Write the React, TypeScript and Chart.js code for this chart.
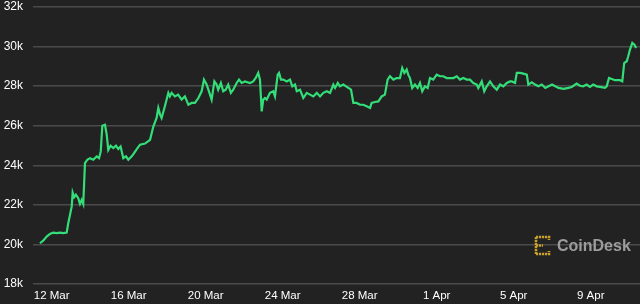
import React, { useEffect, useRef } from "react";
import { Chart, registerables } from "chart.js";

Chart.register(...registerables);

// Days since 12 Mar (0 = 12 Mar 00:00)
const dayOffsets: number[] = [
  -0.61, -0.44, -0.26, -0.09, 0.08, 0.26, 0.43, 0.6, 0.78, 0.86, 0.95, 1.04, 1.09, 1.17, 1.26, 1.38, 1.47, 1.56, 1.64,
  1.73, 1.85, 1.99, 2.16, 2.34, 2.46, 2.55, 2.63, 2.77, 2.86, 2.94, 3.06, 3.2, 3.34, 3.46, 3.58, 3.72, 3.86, 3.98,
  4.16, 4.28, 4.42, 4.59, 4.85, 5.11, 5.28, 5.45, 5.54, 5.63, 5.71, 5.88, 6.06, 6.14, 6.23, 6.4, 6.57, 6.75, 6.92,
  7.1, 7.27, 7.44, 7.62, 7.79, 7.91, 8.05, 8.17, 8.31, 8.45, 8.57, 8.65, 8.79, 8.91, 9.04, 9.17, 9.31, 9.43, 9.61,
  9.73, 9.87, 10.04, 10.3, 10.47, 10.6, 10.73, 10.82, 10.91, 10.99, 11.08, 11.17, 11.34, 11.51, 11.6, 11.74, 11.81,
  11.91, 12.03, 12.21, 12.38, 12.5, 12.64, 12.73, 12.9, 13.07, 13.25, 13.42, 13.59, 13.77, 13.94, 14.11, 14.29,
  14.46, 14.63, 14.72, 14.86, 14.97, 15.15, 15.41, 15.55, 15.67, 15.84, 16.02, 16.19, 16.36, 16.54, 16.62, 16.79,
  16.97, 17.14, 17.31, 17.45, 17.57, 17.75, 17.92, 18.09, 18.21, 18.32, 18.44, 18.52, 18.61, 18.73, 18.87, 19.01,
  19.13, 19.25, 19.39, 19.53, 19.65, 19.82, 20.0, 20.17, 20.34, 20.52, 20.69, 20.87, 21.04, 21.21, 21.38, 21.56,
  21.73, 21.9, 22.08, 22.16, 22.34, 22.47, 22.6, 22.77, 22.94, 23.12, 23.29, 23.46, 23.64, 23.81, 23.9, 24.07,
  24.16, 24.33, 24.5, 24.68, 24.76, 24.94, 25.11, 25.28, 25.46, 25.64, 25.81, 25.99, 26.16, 26.33, 26.59, 26.84,
  27.01, 27.27, 27.44, 27.61, 27.79, 27.96, 28.13, 28.31, 28.48, 28.74, 28.83, 28.95, 29.09, 29.26, 29.52, 29.64,
  29.74, 29.87, 29.95, 30.04, 30.16, 30.27, 30.36,
];

const prices: number[] = [
  20060, 20190, 20400, 20530, 20600, 20570, 20600, 20570, 20600, 21070, 21490, 21910, 22620, 22390, 22510, 22340,
  22050, 22250, 22050, 24110, 24280, 24360, 24280, 24450, 24360, 24700, 26000, 26050, 25540, 24780, 24990, 24870,
  24990, 24820, 24950, 24360, 24450, 24280, 24450, 24620, 24820, 25040, 25100, 25290, 25960, 26390, 26900, 26560,
  26390, 26980, 27660, 27480, 27660, 27480, 27570, 27320, 27480, 27060, 27150, 27150, 27400, 27740, 28330, 28080,
  27740, 27320, 28240, 28080, 27820, 28160, 27740, 27820, 28080, 27660, 27820, 28160, 28330, 28160, 28240, 28160,
  28240, 28410, 28670, 28330, 26720, 27320, 27400, 27320, 27660, 27740, 27480, 28580, 28670, 28330, 28330, 28240,
  28330, 27990, 28080, 27740, 27820, 27400, 27660, 27570, 27480, 27660, 27480, 27660, 27740, 27660, 28080, 27910,
  28160, 27990, 28080, 27910, 27820, 27150, 27150, 27060, 27060, 26980, 26900, 27150, 27200, 27230, 27480, 27570,
  28330, 28500, 28330, 28410, 28410, 28920, 28670, 28840, 28580, 28410, 27910, 28080, 27910, 28160, 27740, 27990,
  27910, 28410, 28330, 28580, 28500, 28500, 28410, 28410, 28410, 28500, 28330, 28410, 28330, 28330, 28160, 28080,
  27910, 28240, 27740, 27990, 28240, 27990, 27820, 28080, 27990, 28160, 28240, 28240, 28160, 28670, 28670, 28630,
  28580, 28080, 28190, 28080, 27990, 28080, 27910, 27990, 28080, 27990, 27910, 27860, 27910, 27960, 28130, 28020,
  27990, 28080, 27960, 28080, 27990, 27960, 27910, 27990, 28410, 28360, 28300, 28300, 28240, 29170, 29260, 29510,
  29850, 30190, 30100, 29930,
];

const tickDays: number[] = [0, 4, 8, 12, 16, 20, 24, 28];
const tickLabels: string[] = ["12 Mar", "16 Mar", "20 Mar", "24 Mar", "28 Mar", "1 Apr", "5 Apr", "9 Apr"];

const FONT = "'Liberation Sans', Arial, Helvetica, sans-serif";

export default function App() {
  const canvasRef = useRef<HTMLCanvasElement | null>(null);

  useEffect(() => {
    document.body.style.margin = "0";
    document.body.style.background = "#222222";
    const canvas = canvasRef.current;
    if (!canvas) return;
    const chart = new Chart(canvas, {
      type: "line",
      data: {
        datasets: [
          {
            data: dayOffsets.map((d, i) => ({ x: d, y: prices[i] })),
            borderColor: "#33de78",
            borderWidth: 2.2,
            pointRadius: 0,
            tension: 0,
            fill: false,
          },
        ],
      },
      options: {
        animation: false,
        responsive: false,
        events: [],
        layout: { padding: { top: 0, right: 0, left: 0, bottom: 0 } },
        plugins: { legend: { display: false }, tooltip: { enabled: false } },
        scales: {
          x: {
            type: "linear",
            min: -0.97,
            max: 30.56,
            grid: { display: false, drawTicks: false },
            border: { display: false },
            afterBuildTicks: (scale: any) => {
              scale.ticks = tickDays.map((v) => ({ value: v }));
            },
            afterFit: (scale: any) => {
              scale.height = 20;
              scale.paddingLeft = 0;
              scale.paddingRight = 0;
            },
            ticks: {
              autoSkip: false,
              maxRotation: 0,
              padding: 5,
              color: "#ffffff",
              font: { family: FONT, size: 11.5 },
              callback: (value: any) => {
                const idx = tickDays.indexOf(Number(value));
                return idx >= 0 ? tickLabels[idx] : "";
              },
            },
          },
          y: {
            min: 18000,
            max: 32000,
            grid: { color: "#4a4a4a", lineWidth: 1.5, drawTicks: false },
            border: { display: false },
            afterFit: (scale: any) => {
              scale.width = 33;
              scale.paddingTop = 7;
              scale.paddingBottom = 0;
            },
            ticks: {
              stepSize: 2000,
              padding: 10,
              color: "#ffffff",
              font: { family: FONT, size: 12 },
              callback: (value: any) => Number(value) / 1000 + "k",
            },
          },
        },
      },
    });
    return () => chart.destroy();
  }, []);

  return (
    <div style={{ position: "relative", width: 640, height: 304, background: "#222222", overflow: "hidden" }}>
      <canvas ref={canvasRef} width={640} height={304} style={{ display: "block" }} />
      <div
        style={{
          position: "absolute",
          left: 534,
          top: 235,
          display: "flex",
          alignItems: "center",
          gap: 5,
          pointerEvents: "none",
        }}
      >
        <svg width={18} height={21} viewBox="0 0 18 21">
          <g fill="none" stroke="#c9a02c" strokeWidth={2.6} strokeDasharray="2.2 0.8">
            <path d="M2 2 V19" />
            <path d="M2 2 H15 V5" />
            <path d="M2 19 H15 V16" />
            <path d="M2 10.5 H9" />
          </g>
        </svg>
        <span
          style={{
            fontFamily: FONT,
            fontWeight: 700,
            fontSize: 16,
            color: "#9c9c9c",
            letterSpacing: 0,
            lineHeight: "18px",
          }}
        >
          CoinDesk
        </span>
      </div>
    </div>
  );
}
